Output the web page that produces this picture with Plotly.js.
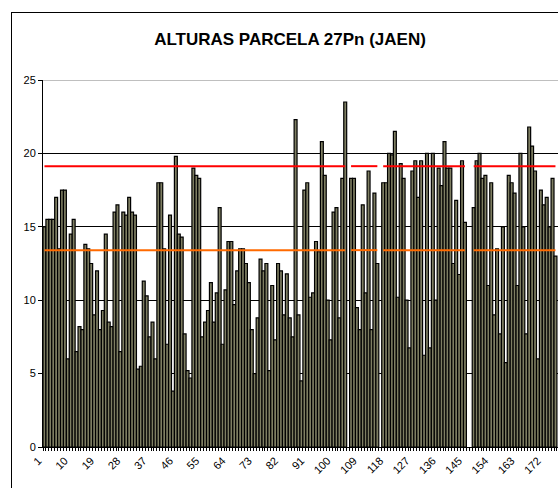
<!DOCTYPE html>
<html>
<head>
<meta charset="utf-8">
<script src="https://cdn.plot.ly/plotly-3.0.1.min.js"></script>
<style>
  html, body { margin: 0; padding: 0; background: #ffffff; overflow: hidden; width: 558px; height: 488px; }
  #chart { position: absolute; left: 0; top: 0; width: 558px; height: 488px; }
  #frame { position: absolute; left: 11px; top: 12px; width: 700px; height: 700px; border: 1px solid #000; pointer-events: none; }
</style>
</head>
<body>
<div id="chart"></div>
<div id="frame"></div>
<script>
// Heights of each plant (m) in plot order; null = missing measurement
const heights = [
  15.0, 15.5, 15.5, 15.5, 17.0, 13.5, 17.5, 17.5, 6.0, 14.5,
  15.5, 6.5, 8.2, 8.0, 13.8, 13.5, 12.5, 9.0, 12.0, 8.0,
  9.3, 14.5, 8.5, 8.2, 16.0, 16.5, 6.5, 16.0, 15.8, 17.0,
  16.0, 15.8, 5.3, 5.5, 11.3, 10.3, 7.5, 8.5, 6.0, 18.0,
  18.0, 13.5, 7.0, 15.8, 3.8, 19.8, 14.5, 14.3, 7.7, 5.2,
  4.7, 19.0, 18.5, 18.3, 7.5, 8.5, 9.3, 11.2, 8.5, 10.5,
  16.3, 7.0, 10.7, 14.0, 14.0, 9.7, 12.0, 13.5, 13.5, 12.5,
  11.2, 8.0, 5.0, 8.8, 12.8, 12.0, 12.5, 5.2, 11.0, 7.3,
  12.5, 12.0, 9.0, 11.8, 8.8, 7.5, 22.3, 9.0, 4.5, 17.5,
  18.0, 10.2, 10.5, 14.0, 13.3, 20.8, 18.5, 10.0, 7.3, 16.0,
  16.3, 8.8, 18.3, 23.5, null, 18.3, 18.3, 9.5, 8.0, 16.5,
  10.5, 18.8, 8.0, 17.3, 12.5, null, 18.0, 18.0, 20.0, 19.9,
  21.5, 10.2, 19.3, 18.3, 10.0, 6.75, 18.8, 19.5, 17.0, 19.5,
  6.25, 20.0, 6.75, 20.0, 10.0, 19.0, 17.8, 20.8, 19.0, 19.0,
  12.5, 16.8, 11.75, 19.5, 15.3, null, null, 16.3, 19.5, 20.0,
  18.3, 18.5, 11.0, 18.0, 9.0, 13.5, 7.7, 15.0, 5.75, 18.5,
  18.0, 17.3, 11.0, 20.0, 15.0, 7.7, 21.8, 20.5, 18.8, 6.0,
  17.5, 16.5, 17.0, 15.0, 18.3, 13.0
];
const categories = heights.map((h, i) => i + 1);
const tickLabels = ['1','10','19','28','37','46','55','64','73','82','91','100','109','118','127','136','145','154','163','172'];
const upperLevel = 19.13;   // red reference line
const lowerLevel = 13.41;   // orange reference line

const upperLine = heights.map(h => h === null ? null : upperLevel);
const lowerLine = heights.map(h => h === null ? null : lowerLevel);

const FONT = 'Liberation Sans, Arial, sans-serif';

const traces = [
  {
    type: 'bar', x: categories, y: heights,
    marker: { color: '#7e7e62', line: { color: '#000000', width: 1.2 } },
    hoverinfo: 'skip', showlegend: false
  },
  {
    type: 'scatter', mode: 'lines', x: categories, y: upperLine,
    line: { color: '#ff0000', width: 2 }, connectgaps: false,
    hoverinfo: 'skip', showlegend: false
  },
  {
    type: 'scatter', mode: 'lines', x: categories, y: lowerLine,
    line: { color: '#ff6a00', width: 2 }, connectgaps: false,
    hoverinfo: 'skip', showlegend: false
  }
];

const layout = {
  width: 558, height: 488,
  margin: { l: 43, r: 0, t: 80, b: 41, pad: 0 },
  paper_bgcolor: '#ffffff', plot_bgcolor: '#ffffff',
  bargap: 0,
  showlegend: false,
  title: {
    text: '<b>ALTURAS PARCELA 27Pn (JAEN)</b>',
    font: { family: FONT, size: 17, color: '#000000' },
    xref: 'container', yref: 'container',
    x: 290 / 558, xanchor: 'center',
    y: 1 - 39 / 488, yanchor: 'middle'
  },
  xaxis: {
    type: 'linear',
    range: [0.5, 0.5 + 515 / 2.92],
    tickmode: 'array',
    tickvals: tickLabels.map(Number),
    ticktext: tickLabels,
    tickangle: -45,
    ticks: '',
    ticklabelshift: -6,
    ticklabelstandoff: 2,
    tickfont: { family: FONT, size: 11, color: '#000000' },
    showgrid: false, zeroline: false,
    showline: true, linecolor: '#000000', linewidth: 1,
    minor: { tickmode: 'linear', tick0: 0.5, dtick: 1, ticks: 'outside', ticklen: 3, tickcolor: '#000000', tickwidth: 1, showgrid: false },
    fixedrange: true
  },
  yaxis: {
    range: [0, 25],
    tickmode: 'linear', tick0: 0, dtick: 5,
    ticks: 'outside', ticklen: 4, tickcolor: '#000000', tickwidth: 1,
    tickfont: { family: FONT, size: 11, color: '#000000' },
    showgrid: true, gridcolor: '#000000', gridwidth: 1,
    zeroline: false,
    showline: true, linecolor: '#000000', linewidth: 1,
    fixedrange: true
  },
  shapes: [
    { type: 'line', xref: 'paper', yref: 'y', x0: 0, x1: 1, y0: 25, y1: 25, line: { color: '#808080', width: 1 }, layer: 'above' }
  ]
};

Plotly.newPlot('chart', traces, layout, { staticPlot: true, displayModeBar: false });
</script>
</body>
</html>
